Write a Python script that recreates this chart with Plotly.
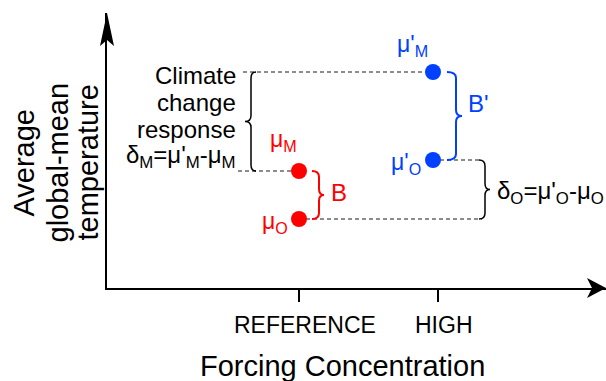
import plotly.graph_objects as go

# ---------------- data ----------------
forcing = ["REFERENCE", "HIGH"]          # x categories
forcing_pos = [1.0, 2.0]                 # category positions of the points
tick_pos = [1.0, 2.04]                   # where the axis tick marks sit
mu_model = [11.7, 21.6]                  # μ_M (reference), μ'_M (high)
mu_obs = [6.9, 12.8]                     # μ_O (reference), μ'_O (high)
point_colors = ["#FF0000", "#0040FF"]
x_title = "Forcing Concentration"
y_title_lines = ["Average", "global-mean", "temperature"]
response_lines = ["Climate", "change", "response",
                  "δ<sub>M</sub>=μ'<sub>M</sub>-μ<sub>M</sub>"]

# ---------------- layout geometry ----------------
W, H = 606, 381
ML, MR, MT, MB = 107, 0, 13, 93
X_RANGE = [-0.4328, 3.291]
Y_RANGE = [0.0, 27.5]
PW, PH = W - ML - MR, H - MT - MB
SX = PW / (X_RANGE[1] - X_RANGE[0])   # px per x unit
SY = PH / (Y_RANGE[1] - Y_RANGE[0])   # px per y unit
FONT = "Arial, Liberation Sans, sans-serif"
DASH_COL = "#1a1a1a"


def dx(px):
    return px / SX


fig = go.Figure()

# dashed guide lines
guides = [
    ([forcing_pos[0] - dx(56), forcing_pos[1]], [mu_model[1], mu_model[1]]),
    ([forcing_pos[0] - dx(61), forcing_pos[0]], [mu_model[0], mu_model[0]]),
    ([forcing_pos[0], forcing_pos[1] + dx(49)], [mu_obs[0], mu_obs[0]]),
    ([forcing_pos[1], forcing_pos[1] + dx(49)], [mu_obs[1], mu_obs[1]]),
]
for gx, gy in guides:
    fig.add_trace(go.Scatter(x=gx, y=gy, mode="lines", hoverinfo="skip",
                             line=dict(color=DASH_COL, width=1, dash="4px,3px"),
                             showlegend=False))

# points
for i in range(2):
    fig.add_trace(go.Scatter(x=[forcing_pos[i], forcing_pos[i]],
                             y=[mu_model[i], mu_obs[i]], mode="markers",
                             marker=dict(size=16, color=point_colors[i]),
                             showlegend=False, cliponaxis=False))


def brace(xc, y_top, y_bot, end_off, shaft_off, tip_off, color, width, r=6):
    xe = xc + dx(end_off)
    xs = xc + dx(shaft_off)
    xt = xc + dx(tip_off)
    ym = (y_top + y_bot) / 2
    ry = r / SY
    path = (f"M{xe},{y_top} Q{xs},{y_top} {xs},{y_top - ry} "
            f"L{xs},{ym + ry} Q{xs},{ym} {xt},{ym} "
            f"Q{xs},{ym} {xs},{ym - ry} L{xs},{y_bot + ry} "
            f"Q{xs},{y_bot} {xe},{y_bot}")
    fig.add_shape(type="path", path=path, xref="x", yref="y",
                  line=dict(color=color, width=width))


brace(forcing_pos[0], mu_model[1], mu_model[0], -43, -48, -54, "black", 1.5)
brace(forcing_pos[0], mu_model[0], mu_obs[0], 13, 20, 25, point_colors[0], 2)
brace(forcing_pos[1], mu_model[1], mu_obs[1], 14, 23, 29, point_colors[1], 2)
brace(forcing_pos[1], mu_obs[1], mu_obs[0], 46, 52, 57, "black", 1.5)

# arrow heads for the axes
fig.add_shape(type="path", xref="paper", yref="paper", xsizemode="pixel",
              ysizemode="pixel", xanchor=0, yanchor=1,
              path="M0,0 L-7,-33 L0,-27 L7,-33 Z", fillcolor="black",
              line=dict(width=0))
fig.add_shape(type="path", xref="paper", yref="paper", xsizemode="pixel",
              ysizemode="pixel", xanchor=1, yanchor=0,
              path="M0,0 L-19,10 L-14,0 L-19,-10 Z", fillcolor="black",
              line=dict(width=0))

ann = []


def text(x, y, s, color="black", size=23, xanchor="center", yanchor="middle",
         xshift=0, yshift=0, xref="x", yref="y", angle=0):
    ann.append(dict(x=x, y=y, text=s, xref=xref, yref=yref, showarrow=False,
                    xanchor=xanchor, yanchor=yanchor, xshift=xshift,
                    yshift=yshift, textangle=angle, borderpad=0,
                    font=dict(family=FONT, size=size, color=color)))


# explanatory text (right aligned)
for k, (line, ys) in enumerate(zip(response_lines, [-3, -30, -57, -84])):
    text(forcing_pos[0], mu_model[1], line, size=24, xanchor="right",
         xshift=-62, yshift=ys)

# point labels
text(forcing_pos[0], mu_model[0], "μ<sub>M</sub>", point_colors[0],
     xshift=-16, yshift=31)
text(forcing_pos[0], mu_obs[0], "μ<sub>O</sub>", point_colors[0],
     xanchor="right", xshift=-10, yshift=-3)
text(forcing_pos[0], (mu_model[0] + mu_obs[0]) / 2, "B", point_colors[0],
     size=24, xshift=40, yshift=3)
text(forcing_pos[1], mu_model[1], "μ'<sub>M</sub>", point_colors[1],
     xshift=-21, yshift=27)
text(forcing_pos[1], mu_obs[1], "μ'<sub>O</sub>", point_colors[1],
     xanchor="right", xshift=-11, yshift=-3)
text(forcing_pos[1], (mu_model[1] + mu_obs[1]) / 2, "B'", point_colors[1],
     size=24, xshift=45, yshift=13)
text(forcing_pos[1], (mu_obs[1] + mu_obs[0]) / 2,
     "δ<sub>O</sub>=μ'<sub>O</sub>-μ<sub>O</sub>", size=24, xanchor="left",
     xshift=63, yshift=-3)

# tick labels
for i in range(2):
    text(tick_pos[i], 0, forcing[i], size=23, xref="x", yref="paper",
         xshift=6, yshift=-37)

# axis titles
text(forcing_pos[0], 0, x_title, size=29, xref="x", yref="paper",
     xshift=43, yshift=-78)
for k, (line, xs) in enumerate(zip(y_title_lines, [-84, -50, -20])):
    text(X_RANGE[0], 0.5, line, size=29, xref="x", yref="paper",
         xshift=xs, yshift=-12, angle=-90)

fig.update_layout(
    width=W, height=H, margin=dict(l=ML, r=MR, t=MT, b=MB),
    paper_bgcolor="white", plot_bgcolor="white", showlegend=False,
    annotations=ann,
    xaxis=dict(range=X_RANGE, showgrid=False, zeroline=False, showline=True,
               linecolor="black", linewidth=1.5, ticks="outside", ticklen=12,
               tickwidth=1.5, tickcolor="black", tickvals=tick_pos,
               showticklabels=False, fixedrange=True),
    yaxis=dict(range=Y_RANGE, showgrid=False, zeroline=False, showline=True,
               linecolor="black", linewidth=1.5, ticks="", showticklabels=False,
               fixedrange=True),
)

fig.write_html("out.html", config={"displayModeBar": False})
